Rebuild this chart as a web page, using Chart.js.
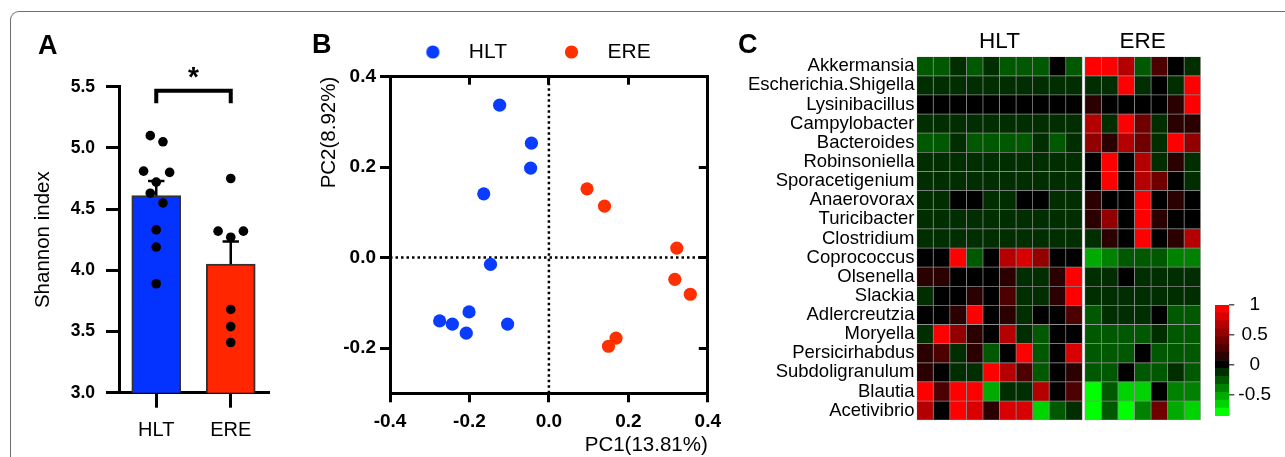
<!DOCTYPE html>
<html>
<head>
<meta charset="utf-8">
<script src="https://cdn.jsdelivr.net/npm/chart.js@4"></script>
<style>
body { margin: 0; background: #fff; width: 1285px; height: 457px; overflow: hidden; position: relative; }
canvas { position: absolute; top: 0; }
#frame { position: absolute; left: 10px; top: 11px; width: 1400px; height: 600px;
  border-top: 1.5px solid #6e6e6e; border-left: 1.5px solid #6e6e6e; border-top-left-radius: 9px; }
</style>
</head>
<body>
<div id="frame"></div>
<canvas id="chartA" width="290" height="457" style="left:0px"></canvas>
<canvas id="chartB" width="429" height="457" style="left:300px"></canvas>
<canvas id="chartC" width="471" height="457" style="left:730px"></canvas>
<canvas id="chartD" width="90" height="457" style="left:1195px"></canvas>
<script>
// panel A: Shannon index
var groups = ['HLT', 'ERE'];
var hltShannon = [5.10, 5.05, 4.81, 4.80, 4.72, 4.63, 4.55, 4.33, 4.19, 3.89];
var ereShannon = [4.75, 4.32, 4.32, 4.27, 3.68, 3.54, 3.41];
var hltJitter = [-0.08, 0.09, -0.17, 0.18, 0, -0.08, 0.09, 0, 0, 0];
var ereJitter = [0, -0.17, 0.17, 0, 0, 0, 0];
var shannonMean = [4.61, 4.05];
var shannonSem = [0.12, 0.185];
var bracket = [5.364, 5.467];
var shannonTicks = [3.0, 3.5, 4.0, 4.5, 5.0, 5.5];

// panel B: PCA
var hltPC1 = [-0.124, -0.044, -0.046, -0.164, -0.147, -0.201, -0.275, -0.243, -0.208, -0.104];
var hltPC2 = [0.337, 0.253, 0.198, 0.141, -0.015, -0.120, -0.140, -0.147, -0.167, -0.147];
var erePC1 = [0.096, 0.140, 0.322, 0.317, 0.356, 0.169, 0.150];
var erePC2 = [0.152, 0.114, 0.021, -0.048, -0.081, -0.178, -0.196];
var pcTicksX = [-0.4, -0.2, 0, 0.2, 0.4];
var pcTicksY = [-0.2, 0, 0.2, 0.4];

// panel C: heatmap
var taxa = ['Akkermansia', 'Escherichia.Shigella', 'Lysinibacillus', 'Campylobacter', 'Bacteroides',
  'Robinsoniella', 'Sporacetigenium', 'Anaerovorax', 'Turicibacter', 'Clostridium', 'Coprococcus',
  'Olsenella', 'Slackia', 'Adlercreutzia', 'Moryella', 'Persicirhabdus', 'Subdoligranulum', 'Blautia', 'Acetivibrio'];
var hltCells = [
  [-0.30, -0.30, -0.17, -0.30, -0.17, -0.30, -0.30, -0.30, 0.00, -0.30],
  [-0.17, -0.17, -0.17, -0.17, -0.17, -0.17, -0.17, -0.17, -0.17, -0.17],
  [-0.02, -0.02, -0.02, -0.02, -0.02, -0.02, -0.02, -0.02, -0.02, -0.02],
  [-0.15, -0.15, -0.15, -0.15, -0.15, -0.15, -0.15, -0.15, -0.15, -0.15],
  [-0.30, -0.30, -0.17, -0.30, -0.30, -0.30, -0.30, -0.17, -0.30, -0.17],
  [-0.15, -0.15, -0.15, -0.15, -0.15, -0.15, -0.15, -0.15, -0.15, -0.15],
  [-0.15, -0.15, -0.15, -0.15, -0.15, -0.15, -0.15, -0.15, -0.15, -0.15],
  [-0.15, -0.15, 0.00, 0.00, -0.15, -0.15, 0.00, 0.00, -0.15, -0.15],
  [-0.15, -0.15, -0.15, -0.15, -0.15, -0.15, -0.15, -0.15, -0.15, -0.15],
  [-0.15, -0.15, -0.15, -0.15, -0.15, -0.15, -0.15, -0.15, -0.15, -0.15],
  [0.00, 0.00, 0.95, -0.32, 0.00, 0.67, 0.80, 0.52, 0.00, 0.00],
  [0.17, 0.15, 0.00, 0.00, 0.00, 0.15, -0.15, -0.15, 0.15, 0.95],
  [-0.15, 0.00, 0.00, 0.15, 0.00, 0.30, -0.15, -0.15, 0.15, 0.95],
  [0.00, 0.00, 0.15, 0.95, 0.00, 0.15, -0.15, 0.00, 0.00, 0.30],
  [-0.15, 0.95, 0.52, 0.15, 0.00, 0.67, -0.15, -0.30, 0.00, 0.00],
  [0.15, 0.30, -0.15, 0.15, -0.30, 0.00, 0.95, -0.30, 0.00, 0.80],
  [0.15, 0.00, -0.15, -0.15, 0.95, 0.67, 0.30, -0.30, 0.00, 0.15],
  [0.95, 0.30, 0.95, 0.95, -0.55, -0.15, -0.15, 0.67, 0.00, 0.30],
  [0.67, 0.00, 0.95, 0.80, 0.15, 0.80, 0.80, -0.68, -0.30, -0.15]
];
var ereCells = [
  [0.95, 0.95, 0.67, -0.30, 0.30, 0.00, -0.15],
  [-0.15, -0.17, 0.95, -0.15, 0.00, -0.12, 0.95],
  [0.15, 0.00, 0.00, 0.00, 0.00, 0.15, 0.95],
  [0.67, -0.15, 0.95, 0.40, -0.15, 0.18, 0.15],
  [0.52, 0.15, 0.67, 0.40, -0.15, 0.95, 0.52],
  [0.00, 0.95, 0.00, 0.67, -0.15, 0.18, -0.15],
  [0.00, 0.95, 0.00, 0.67, 0.40, 0.00, -0.15],
  [0.15, 0.00, 0.00, 0.95, 0.00, 0.15, 0.00],
  [0.15, 0.52, 0.00, 0.95, 0.12, 0.00, 0.00],
  [-0.15, 0.15, 0.00, 0.95, 0.00, 0.18, 0.67],
  [-0.52, -0.42, -0.30, -0.30, -0.32, -0.42, -0.42],
  [-0.17, -0.17, 0.00, -0.17, -0.17, -0.17, -0.17],
  [-0.17, -0.17, -0.17, -0.17, -0.17, -0.17, -0.17],
  [-0.30, -0.17, -0.17, -0.17, 0.00, -0.30, -0.30],
  [-0.30, -0.30, -0.30, -0.30, -0.17, -0.30, -0.30],
  [-0.30, -0.30, -0.30, 0.00, -0.30, -0.30, -0.30],
  [-0.30, -0.30, 0.00, -0.30, -0.30, -0.15, -0.30],
  [-0.82, -0.30, -0.68, -0.68, 0.00, -0.42, -0.42],
  [-0.80, -0.30, -0.82, -0.42, 0.45, -0.55, -0.68]
];
var heatBins = [-0.85, -0.718, -0.586, -0.454, -0.321, -0.189, -0.057, 0.075, 0.207, 0.339, 0.471, 0.604, 0.736, 0.868, 1.0];
var heatColors = ['#00ff00', '#00d400', '#00aa00', '#008200', '#005800', '#002e00', '#000000',
  '#2a0000', '#4d0000', '#700000', '#920000', '#b40000', '#d80000', '#ff0000'];
var colorbarTicks = [1, 0.5, 0, -0.5];
var groupGap = 0.15;

var FONT = "'Liberation Sans', Arial, Helvetica, sans-serif";
var BLUE = '#0433ff', RED = '#ff2600';
Chart.defaults.font.family = FONT;
Chart.defaults.color = '#000';
Chart.defaults.animation = false;
Chart.defaults.plugins.tooltip.enabled = false;
Chart.defaults.plugins.legend.display = false;

// draws panel letters and the significance star
Chart.register({
  id: 'panelText',
  afterDraw: function(chart, args, opts) {
    var ctx = chart.ctx;
    (opts.items || []).forEach(function(it) {
      var x = it.xv !== undefined ? chart.scales.x.getPixelForValue(it.xv) : it.x;
      var y = it.yv !== undefined ? chart.scales.y.getPixelForValue(it.yv) + it.dy : it.y;
      ctx.save();
      ctx.font = it.font;
      ctx.fillStyle = '#000';
      ctx.textAlign = it.align || 'left';
      ctx.textBaseline = 'alphabetic';
      ctx.fillText(it.text, x, y);
      ctx.restore();
    });
  }
});

function fixedTicks(list) {
  return function(s) { s.ticks = list.map(function(v) { return {value: v}; }); };
}

// ---------- A ----------
function jittered(vals, jit, g) {
  return vals.map(function(v, i) { return {x: g + jit[i], y: v}; });
}
var errorData = [];
shannonMean.forEach(function(m, g) {
  var top = m + shannonSem[g];
  errorData.push({x: g, y: m}, {x: g, y: top}, {x: g, y: null},
    {x: g - 0.11, y: top}, {x: g + 0.11, y: top}, {x: g, y: null});
});
var bracketData = [{x: 0, y: bracket[0]}, {x: 0, y: bracket[1]}, {x: 1, y: bracket[1]}, {x: 1, y: bracket[0]}];

new Chart(document.getElementById('chartA'), {
  type: 'bar',
  data: {
    datasets: [
      {type: 'scatter', data: jittered(hltShannon, hltJitter, 0), pointRadius: 4.8, backgroundColor: '#000', borderWidth: 0},
      {type: 'scatter', data: jittered(ereShannon, ereJitter, 1), pointRadius: 4.8, backgroundColor: '#000', borderWidth: 0},
      {type: 'line', data: errorData, borderColor: '#000', borderWidth: 2.5, pointRadius: 0, fill: false},
      {type: 'line', data: bracketData, borderColor: '#000', borderWidth: 4, pointRadius: 0, fill: false, borderJoinStyle: 'miter'},
      {type: 'bar', data: shannonMean.map(function(m, i) { return {x: i, y: m}; }),
        backgroundColor: [BLUE, RED], borderColor: '#333', borderWidth: 2, barThickness: 49}
    ]
  },
  options: {
    responsive: false,
    layout: {padding: {top: 86.7, right: 22, bottom: 0, left: 0}},
    scales: {
      x: {
        type: 'linear', min: -0.5, max: 1.5, offset: false,
        afterBuildTicks: fixedTicks([0, 1]),
        afterFit: function(s) { s.height = 64.3; },
        ticks: {callback: function(v) { return groups[v]; }, font: {size: 20}, padding: 11, maxRotation: 0, autoSkip: false},
        grid: {display: true, offset: false, drawOnChartArea: false, tickLength: 15, lineWidth: 3, color: '#000'},
        border: {display: true, width: 3, color: '#000'}
      },
      y: {
        min: 3, max: 5.5, beginAtZero: false,
        afterBuildTicks: fixedTicks(shannonTicks),
        afterFit: function(s) { s.width = 119; },
        ticks: {callback: function(v) { return v.toFixed(1); }, font: {size: 17.5, weight: 'bold'}, padding: 11},
        grid: {drawOnChartArea: false, tickLength: 13, lineWidth: 3, color: '#000'},
        border: {display: true, width: 3, color: '#000'},
        title: {display: true, text: 'Shannon index', font: {size: 20.5}, padding: {top: 30.7, bottom: 0}}
      }
    },
    plugins: {
      panelText: {items: [
        {text: 'A', x: 38, y: 54, font: 'bold 27px ' + FONT},
        {text: '*', xv: 0.5, yv: bracket[1], dy: -5, align: 'center', font: 'bold 28px ' + FONT}
      ]}
    }
  }
});

// ---------- B ----------
function legendDot(color) {
  var c = document.createElement('canvas');
  c.width = 80; c.height = 14;
  var g = c.getContext('2d');
  g.fillStyle = color;
  g.beginPath(); g.arc(54.5, 7, 6.6, 0, Math.PI * 2); g.fill();
  return c;
}
var legendDots = [legendDot('#0a3cff'), legendDot('#ff3000')];
var boxBorder = {display: true, width: 3, color: '#000'};

new Chart(document.getElementById('chartB'), {
  type: 'scatter',
  data: {
    datasets: [
      {label: 'HLT', data: hltPC1.map(function(x, i) { return {x: x, y: hltPC2[i]}; }),
        backgroundColor: '#0a3cff', pointRadius: 6.6, borderWidth: 0},
      {label: 'ERE', data: erePC1.map(function(x, i) { return {x: x, y: erePC2[i]}; }),
        backgroundColor: '#ff3000', pointRadius: 6.6, borderWidth: 0},
      {type: 'line', label: 'x0', data: [{x: 0, y: -0.3}, {x: 0, y: 0.4}],
        borderColor: '#000', borderWidth: 2.5, borderDash: [2.5, 3], pointRadius: 0},
      {type: 'line', label: 'y0', data: [{x: -0.4, y: 0}, {x: 0.4, y: 0}],
        borderColor: '#000', borderWidth: 2.5, borderDash: [2.5, 3], pointRadius: 0}
    ]
  },
  options: {
    responsive: false,
    layout: {padding: {top: 31.5, right: 0, bottom: 0, left: 0}},
    scales: {
      x: {
        type: 'linear', position: 'bottom', min: -0.4, max: 0.4,
        afterBuildTicks: fixedTicks(pcTicksX),
        afterFit: function(s) { s.height = 63.7; },
        ticks: {callback: function(v) { return v.toFixed(1); }, font: {size: 19, weight: 'bold'}, padding: 8, maxRotation: 0},
        grid: {drawOnChartArea: false, tickLength: 9, lineWidth: 3, color: '#000'},
        border: boxBorder,
        title: {display: true, text: 'PC1(13.81%)', align: 'end', font: {size: 20.5}, padding: {top: 0, bottom: -1}}
      },
      x2: {
        type: 'linear', position: 'top', min: -0.4, max: 0.4, display: true,
        afterBuildTicks: fixedTicks(pcTicksX),
        afterFit: function(s) { s.height = 4.2; },
        ticks: {display: false},
        grid: {drawOnChartArea: false, tickLength: -8, lineWidth: 3, color: '#000'},
        border: boxBorder
      },
      y: {
        type: 'linear', position: 'left', min: -0.3, max: 0.4,
        afterBuildTicks: fixedTicks(pcTicksY),
        afterFit: function(s) { s.width = 90; },
        ticks: {callback: function(v) { return v.toFixed(1); }, font: {size: 19, weight: 'bold'}, padding: 4},
        grid: {drawOnChartArea: false, tickLength: 10, lineWidth: 3, color: '#000'},
        border: boxBorder,
        title: {display: true, text: 'PC2(8.92%)', align: 'end', font: {size: 20.5}, padding: {top: 16.7, bottom: 0}}
      },
      y2: {
        type: 'linear', position: 'right', min: -0.3, max: 0.4, display: true,
        afterBuildTicks: fixedTicks(pcTicksY),
        afterFit: function(s) { s.width = 20.7; },
        ticks: {display: false},
        grid: {drawOnChartArea: false, tickLength: -9, lineWidth: 3, color: '#000'},
        border: boxBorder
      }
    },
    plugins: {
      legend: {
        display: true, position: 'top', align: 'center',
        labels: {
          usePointStyle: true, pointStyleWidth: 80, padding: 10, color: '#000', font: {size: 21},
          filter: function(item) { return item.datasetIndex < 2; },
          generateLabels: function(chart) {
            var items = Chart.defaults.plugins.legend.labels.generateLabels(chart);
            items.forEach(function(it) { it.pointStyle = legendDots[it.datasetIndex]; });
            return items;
          }
        }
      },
      panelText: {items: [{text: 'B', x: 12, y: 53, font: 'bold 27px ' + FONT}]}
    }
  }
});

// ---------- C ----------
function heatColor(v) {
  for (var k = 0; k < heatColors.length; k++) {
    if (v < heatBins[k + 1]) return heatColors[k];
  }
  return heatColors[heatColors.length - 1];
}
function heatColumn(cells, c, x0) {
  return {
    data: cells.map(function() { return [x0, x0 + 1]; }),
    backgroundColor: cells.map(function(row) { return heatColor(row[c]); }),
    borderColor: '#8a8a8a', borderWidth: 0.7, borderSkipped: false,
    grouped: false, barPercentage: 1, categoryPercentage: 1
  };
}
var heatSets = [];
for (var c = 0; c < hltCells[0].length; c++) heatSets.push(heatColumn(hltCells, c, c));
for (var c2 = 0; c2 < ereCells[0].length; c2++) heatSets.push(heatColumn(ereCells, c2, hltCells[0].length + groupGap + c2));
var heatMax = hltCells[0].length + groupGap + ereCells[0].length;

new Chart(document.getElementById('chartC'), {
  type: 'bar',
  data: {labels: taxa, datasets: heatSets},
  options: {
    indexAxis: 'y',
    responsive: false,
    layout: {padding: {top: 16.7, right: 0.3, bottom: 36.8, left: 0}},
    scales: {
      y: {
        type: 'category',
        afterFit: function(s) { s.width = 186.7; },
        grid: {display: false, drawTicks: false, tickLength: 0}, border: {display: false},
        ticks: {font: {size: 18.5}, padding: 2.2, autoSkip: false}
      },
      x: {
        type: 'linear', position: 'top', min: 0, max: heatMax, offset: false,
        afterBuildTicks: fixedTicks([hltCells[0].length / 2, hltCells[0].length + groupGap + ereCells[0].length / 2]),
        afterFit: function(s) { s.height = 40; },
        ticks: {callback: function(v, i) { return groups[i]; }, font: {size: 22.5}, padding: 1, maxRotation: 0},
        grid: {display: false, drawTicks: false, tickLength: 0}, border: {display: false}
      }
    },
    plugins: {
      panelText: {items: [{text: 'C', x: 8, y: 53, font: 'bold 27px ' + FONT}]}
    }
  }
});

// ---------- colour key ----------
new Chart(document.getElementById('chartD'), {
  type: 'bar',
  data: {
    labels: [''],
    datasets: heatColors.map(function(col, k) {
      return {data: [[heatBins[k], heatBins[k + 1]]], backgroundColor: col, borderWidth: 0,
        grouped: false, barPercentage: 1, categoryPercentage: 1};
    })
  },
  options: {
    responsive: false,
    layout: {padding: {top: 305, right: 0, bottom: 41, left: 20}},
    scales: {
      x: {display: false},
      y: {
        position: 'right', min: heatBins[0], max: heatBins[heatBins.length - 1], beginAtZero: false,
        afterBuildTicks: fixedTicks(colorbarTicks),
        afterFit: function(s) { s.width = 55.7; },
        ticks: {callback: function(v) { return String(v); }, font: {size: 19}, padding: 4, crossAlign: 'center'},
        grid: {drawOnChartArea: false, tickLength: 5, lineWidth: 1.5, color: '#555'},
        border: {display: false}
      }
    }
  }
});
</script>
</body>
</html>
